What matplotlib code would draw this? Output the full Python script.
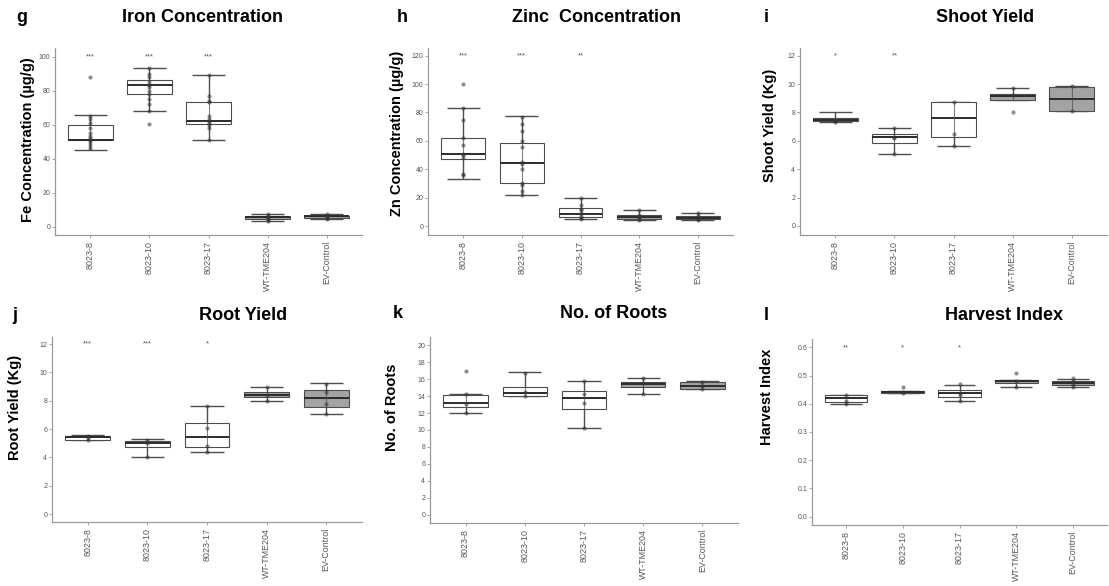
import matplotlib
matplotlib.use("Agg")
import matplotlib.pyplot as plt

plt.rcParams['font.family'] = ['Liberation Sans', 'DejaVu Sans']

W, H = 1109, 586

groups = ["8023-8", "8023-10", "8023-17", "WT-TME204", "EV-Control"]
fills = ["white", "white", "white", "#a3a3a3", "#a3a3a3"]

# ---- g: Iron concentration ----
fe_q1 = [51.0, 78.0, 60.5, 4.5, 5.0]
fe_med = [51.0, 83.0, 62.0, 5.5, 6.0]
fe_q3 = [59.5, 86.0, 73.0, 6.0, 6.3]
fe_lo = [45.0, 68.0, 51.0, 3.0, 4.5]
fe_hi = [65.5, 93.0, 89.0, 7.5, 7.5]
fe_pts = [[46, 48, 50, 51, 52, 53, 55, 58, 61, 63, 65, 88],
          [60.5, 68, 72, 75, 78, 80, 82, 83, 85, 88, 90, 93],
          [51, 58, 60, 61, 62, 63, 65, 73, 74, 77, 89],
          [3, 4, 5, 5.5, 6, 7.5],
          [4.5, 5, 6, 6.3, 7.5]]
fe_sig = ["***", "***", "***", "", ""]

# ---- h: Zinc concentration ----
zn_q1 = [47.3, 30.0, 6.5, 5.0, 5.0]
zn_med = [51.0, 44.7, 8.8, 6.5, 6.0]
zn_q3 = [62.0, 58.5, 12.5, 8.0, 7.0]
zn_lo = [33.0, 22.0, 5.0, 4.0, 4.0]
zn_hi = [83.0, 77.5, 20.0, 11.0, 9.5]
zn_pts = [[36, 37, 48, 50, 51, 57, 62, 75, 83, 100],
          [22, 25, 29, 30, 40, 44, 45, 56, 60, 67, 72, 77],
          [5, 6, 7, 9, 11, 12, 15, 20],
          [4, 5, 6.5, 8, 11],
          [4, 5, 6, 7, 9.5]]
zn_sig = ["***", "***", "**", "", ""]

# ---- i: Shoot yield ----
sh_q1 = [7.38, 5.85, 6.25, 8.90, 8.10]
sh_med = [7.45, 6.28, 7.60, 9.18, 8.95]
sh_q3 = [7.62, 6.50, 8.72, 9.33, 9.82]
sh_lo = [7.35, 5.05, 5.60, 8.90, 8.10]
sh_hi = [8.05, 6.92, 8.75, 9.75, 9.85]
sh_pts = [[7.3, 7.4, 7.5], [5.1, 6.2, 6.3, 6.9], [5.6, 6.5, 8.7],
          [8.05, 9.2, 9.7], [8.1, 9.85]]
sh_sig = ["*", "**", "", "", ""]

# ---- j: Root yield ----
rt_q1 = [5.25, 4.72, 4.76, 8.24, 7.55]
rt_med = [5.42, 5.02, 5.42, 8.40, 8.18]
rt_q3 = [5.50, 5.16, 6.42, 8.60, 8.74]
rt_lo = [5.20, 4.02, 4.40, 7.95, 7.04]
rt_hi = [5.55, 5.32, 7.65, 9.00, 9.22]
rt_pts = [[5.2, 5.4, 5.5], [4.0, 5.0, 5.2], [4.4, 4.8, 6.1, 7.6],
          [7.95, 8.4, 9.0], [7.05, 7.8, 8.6, 9.2]]
rt_sig = ["***", "***", "*", "", ""]

# ---- k: Number of roots ----
nr_q1 = [12.7, 14.0, 12.45, 15.12, 14.82]
nr_med = [13.15, 14.4, 13.75, 15.42, 15.24]
nr_q3 = [14.18, 15.13, 14.65, 15.72, 15.67]
nr_lo = [12.05, 14.0, 10.25, 14.22, 14.8]
nr_hi = [14.2, 16.85, 15.82, 16.2, 15.75]
nr_pts = [[12.0, 13.1, 14.2, 17.0], [14.0, 14.5, 16.8], [10.2, 13.2, 14.2, 15.8],
          [14.2, 15.5, 16.2], [14.8, 15.2, 15.7]]
nr_sig = ["", "", "", "", ""]

# ---- l: Harvest index ----
hi_q1 = [0.408, 0.440, 0.424, 0.475, 0.465]
hi_med = [0.420, 0.442, 0.438, 0.480, 0.473]
hi_q3 = [0.432, 0.444, 0.449, 0.486, 0.482]
hi_lo = [0.400, 0.440, 0.409, 0.459, 0.459]
hi_hi = [0.432, 0.444, 0.468, 0.486, 0.488]
hi_pts = [[0.40, 0.41, 0.43], [0.44, 0.442, 0.46], [0.41, 0.43, 0.44, 0.47],
          [0.46, 0.48, 0.51], [0.46, 0.47, 0.48, 0.49]]
hi_sig = ["**", "*", "*", "", ""]

fig = plt.figure(figsize=(W / 100, H / 100), dpi=100)


def rect_px(l, r, t, b):
    return [l / W, 1 - b / H, (r - l) / W, (b - t) / H]


def fx(x):
    return x / W


def fy(y):
    return 1 - y / H


LINE = "#4d4d4d"
TICKC = "#555555"


def panel(rect, q1, med, q3, lo, hi, pts, sig, ylim, yticks, ylabels, star_y,
          letter, letter_xy, title, title_xy, ylab, ylab_xy):
    ax = fig.add_axes(rect_px(*rect))
    pos = list(range(1, len(groups) + 1))
    stats = []
    for i in range(len(groups)):
        stats.append(dict(q1=q1[i], med=med[i], q3=q3[i], whislo=lo[i], whishi=hi[i],
                          fliers=[], label=groups[i]))
    # whiskers + caps (errorbar style)
    ax.vlines(pos, lo, hi, color=LINE, lw=1.0, zorder=1)
    ax.hlines(lo, [p - 0.28 for p in pos], [p + 0.28 for p in pos], color=LINE, lw=1.0, zorder=1)
    ax.hlines(hi, [p - 0.28 for p in pos], [p + 0.28 for p in pos], color=LINE, lw=1.0, zorder=1)
    bp = ax.bxp(stats, positions=pos, widths=0.75, patch_artist=True, showcaps=False,
                showfliers=False, whiskerprops=dict(lw=0),
                boxprops=dict(edgecolor=LINE, lw=0.8),
                medianprops=dict(color="#2b2b2b", lw=1.4), zorder=2)
    for patch, fc in zip(bp['boxes'], fills):
        patch.set_facecolor(fc)
    ax.vlines(pos, q1, q3, color=LINE, lw=0.8, alpha=0.7, zorder=3)
    for p, vals in zip(pos, pts):
        ax.plot([p] * len(vals), vals, 'o', color="#333333", ms=3.0, alpha=0.55,
                mec='none', zorder=4)
    for p, s in zip(pos, sig):
        if s:
            ax.text(p, star_y, s, ha='center', va='center', fontsize=5.5, color="#555555")
    ax.set_xlim(0.4, 5.6)
    ax.set_ylim(*ylim)
    ax.set_yticks(yticks)
    ax.set_yticklabels(ylabels)
    ax.set_xticks(pos)
    ax.set_xticklabels(groups, rotation=90)
    for sp in ['top', 'right']:
        ax.spines[sp].set_visible(False)
    for sp in ['left', 'bottom']:
        ax.spines[sp].set_color("#999999")
        ax.spines[sp].set_linewidth(0.9)
    ax.tick_params(axis='y', labelsize=5, colors="#999999", labelcolor=TICKC, length=2, width=0.6, pad=1.5)
    ax.tick_params(axis='x', labelsize=6.4, colors="#999999", labelcolor=TICKC, length=2, width=0.6, pad=2)
    fig.text(fx(letter_xy[0]), fy(letter_xy[1]), letter, fontsize=13, fontweight='bold',
             ha='center', va='center')
    fig.text(fx(title_xy[0]), fy(title_xy[1]), title, fontsize=13, fontweight='bold',
             ha='center', va='center')
    fig.text(fx(ylab_xy[0]), fy(ylab_xy[1]), ylab, fontsize=10.5, fontweight='bold',
             ha='center', va='center', rotation=90)
    return ax


panel((55, 362, 48, 235), fe_q1, fe_med, fe_q3, fe_lo, fe_hi, fe_pts, fe_sig,
      (-5, 105), [0, 20, 40, 60, 80, 100], ["0", "20", "40", "60", "80", "100"], 100,
      "g", (22, 17), "Iron Concentration", (203, 17),
      "Fe Concentration (\u00b5g/g)", (28, 140))
panel((428, 733, 48, 235), zn_q1, zn_med, zn_q3, zn_lo, zn_hi, zn_pts, zn_sig,
      (-6.3, 125.4), [0, 20, 40, 60, 80, 100, 120], ["0", "20", "40", "60", "80", "100", "120"], 120,
      "h", (402, 17), "Zinc  Concentration", (596, 17),
      "Zn Concentration (\u00b5g/g)", (397, 133))
panel((800, 1107, 48, 235), sh_q1, sh_med, sh_q3, sh_lo, sh_hi, sh_pts, sh_sig,
      (-0.64, 12.54), [0, 2, 4, 6, 8, 10, 12], ["0", "2", "4", "6", "8", "10", "12"], 12,
      "i", (766, 17), "Shoot Yield", (985, 17),
      "Shoot Yield (Kg)", (770, 125))
panel((52, 362, 337, 522), rt_q1, rt_med, rt_q3, rt_lo, rt_hi, rt_pts, rt_sig,
      (-0.56, 12.5), [0, 2, 4, 6, 8, 10, 12], ["0", "2", "4", "6", "8", "10", "12"], 12,
      "j", (15, 315), "Root Yield", (243, 315),
      "Root Yield (Kg)", (15, 407))
panel((430, 738, 337, 523), nr_q1, nr_med, nr_q3, nr_lo, nr_hi, nr_pts, nr_sig,
      (-1.0, 21.0), list(range(0, 21, 2)), [str(v) for v in range(0, 21, 2)], 20,
      "k", (398, 314), "No. of Roots", (614, 314),
      "No. of Roots", (392, 407))
panel((812, 1107, 339, 525), hi_q1, hi_med, hi_q3, hi_lo, hi_hi, hi_pts, hi_sig,
      (-0.03, 0.63), [0, 0.1, 0.2, 0.3, 0.4, 0.5, 0.6],
      ["0.0", "0.1", "0.2", "0.3", "0.4", "0.5", "0.6"], 0.6,
      "l", (766, 315), "Harvest Index", (1004, 315),
      "Harvest Index", (767, 397))

fig.savefig("out.png", dpi=100, facecolor="white")
